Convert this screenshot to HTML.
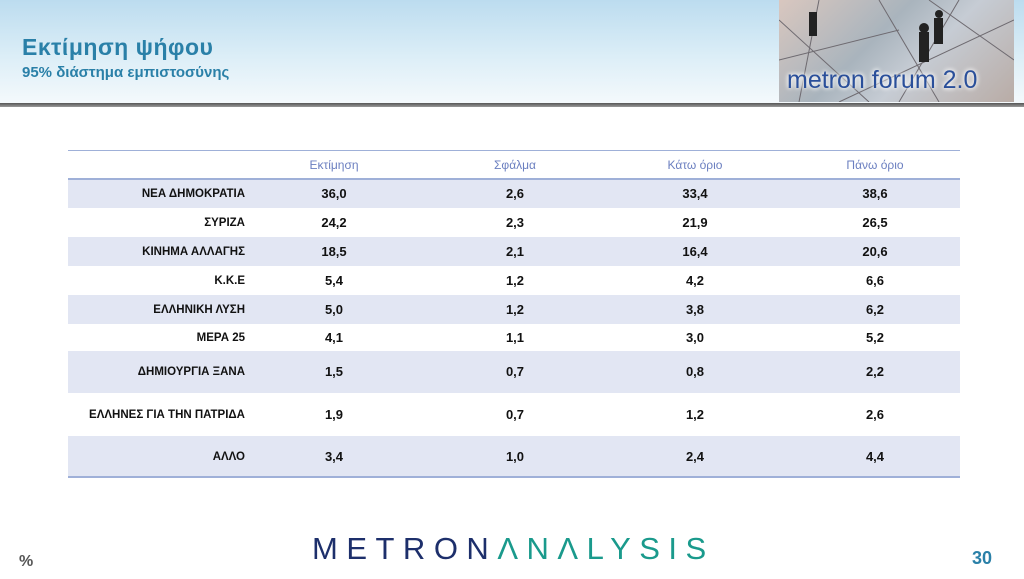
<!DOCTYPE html>
<html><head><meta charset="utf-8">
<style>
body{margin:0;width:1024px;height:579px;overflow:hidden;background:#fff;font-family:"Liberation Sans","DejaVu Sans",sans-serif;position:relative}
#hdr{position:absolute;left:0;top:0;width:1024px;height:103px;background:linear-gradient(180deg,#bcdcef 0%,#dceef7 55%,#f4f9fc 100%)}
#hdrline{position:absolute;left:0;top:103px;width:1024px;height:4px;background:linear-gradient(180deg,#555,#999)}
#title{position:absolute;left:22px;top:34px;font-size:23px;color:#2a80a8;font-weight:bold;letter-spacing:0.5px}
#sub{position:absolute;left:22px;top:64px;font-size:15px;color:#2a80a8;font-weight:bold}
#photo{position:absolute;left:779px;top:0;width:235px;height:102px;background:linear-gradient(135deg,#d9c7bf 0%,#a9b4bd 40%,#c6ccd4 60%,#b9aca6 100%);overflow:hidden}
#photo span{position:absolute;left:8px;top:66px;font-size:25px;color:#2a4f9a;white-space:nowrap;text-shadow:0 0 4px #fff,0 0 6px #fff}
.line{position:absolute;left:68px;width:892px;background:#9fb0d8}
.cell{position:absolute;font-size:13px;line-height:14px;font-weight:bold;color:#111;text-align:center;width:120px}
.lab{position:absolute;font-size:11.5px;line-height:14px;font-weight:bold;color:#111;text-align:right;width:230px;left:15px;margin:0}
.hd{position:absolute;top:158px;font-size:12px;color:#6b7fc0;text-align:center;width:120px}
#logo{position:absolute;left:312px;top:531px;font-size:31px;letter-spacing:8.5px;color:#1d2f6b}
#logo b{font-weight:normal;color:#1a9a8c}
#pct{position:absolute;left:19px;top:553px;font-size:16px;color:#555;font-weight:bold}
#pg{position:absolute;left:972px;top:548px;font-size:18px;color:#2a80a8;font-weight:bold}
</style></head><body>
<div id="hdr"></div>
<div id="hdrline"></div>
<div id="title">Εκτίμηση ψήφου</div>
<div id="sub">95% διάστημα εμπιστοσύνης</div>
<div id="photo">
<svg width="235" height="102" style="position:absolute;left:0;top:0"><g stroke="#6e6a70" stroke-width="1" fill="none"><line x1="0" y1="20" x2="90" y2="102"/><line x1="40" y1="0" x2="20" y2="102"/><line x1="100" y1="0" x2="160" y2="102"/><line x1="150" y1="0" x2="235" y2="60"/><line x1="0" y1="60" x2="120" y2="30"/><line x1="180" y1="0" x2="120" y2="102"/><line x1="60" y1="102" x2="235" y2="20"/></g><g fill="#222"><circle cx="145" cy="28" r="5"/><rect x="140" y="32" width="10" height="30"/><circle cx="160" cy="14" r="4"/><rect x="155" y="18" width="9" height="26"/><rect x="30" y="12" width="8" height="24"/></g></svg>
<span>metron forum 2.0</span></div>

<div class="line" style="top:150px;height:1px"></div>
<div class="hd" style="left:274px">Εκτίμηση</div>
<div class="hd" style="left:455px">Σφάλμα</div>
<div class="hd" style="left:635px">Κάτω όριο</div>
<div class="hd" style="left:815px">Πάνω όριο</div>
<div id="rows"></div>
<div class="line" style="top:178px;height:2px"></div>
<div class="line" style="top:476px;height:2px"></div>

<div id="logo">METRON<b>ΛNΛLYSIS</b></div>
<div id="pct">%</div>
<div id="pg">30</div>
<script>
const parties=["ΝΕΑ  ΔΗΜΟΚΡΑΤΙΑ","ΣΥΡΙΖΑ","ΚΙΝΗΜΑ  ΑΛΛΑΓΗΣ","Κ.Κ.Ε","ΕΛΛΗΝΙΚΗ  ΛΥΣΗ","ΜΕΡΑ 25","ΔΗΜΙΟΥΡΓΙΑ ΞΑΝΑ","ΕΛΛΗΝΕΣ ΓΙΑ ΤΗΝ ΠΑΤΡΙΔΑ","ΑΛΛΟ"];
const estimate=[36.0,24.2,18.5,5.4,5.0,4.1,1.5,1.9,3.4];
const error=[2.6,2.3,2.1,1.2,1.2,1.1,0.7,0.7,1.0];
const lower=[33.4,21.9,16.4,4.2,3.8,3.0,0.8,1.2,2.4];
const upper=[38.6,26.5,20.6,6.6,6.2,5.2,2.2,2.6,4.4];
const shaded=[true,false,true,false,true,false,true,false,true];
const rowH=[29,29,29,29,29,27,42,43,42];
const colX=[274,455,635,815];
const host=document.getElementById('rows');
let y=179;
const fmt=v=>v.toFixed(1).replace('.',',');
parties.forEach((p,i)=>{
  const h=rowH[i];
  if(shaded[i]){const bg=document.createElement('div');
    
    
    bg.style.cssText=`position:absolute;left:68px;width:892px;top:${y}px;height:${h}px;background:#e2e6f3`;host.appendChild(bg);}
  const ty=Math.round(y+h/2-7);
  const l=document.createElement('div');l.className='lab';
  
  
  l.style.top=ty+'px';l.textContent=p;host.appendChild(l);
  [estimate,error,lower,upper].forEach((arr,c)=>{
    const d=document.createElement('div');d.className='cell';
    
    
    d.style.left=colX[c]+'px';d.style.top=ty+'px';d.textContent=fmt(arr[i]);host.appendChild(d);
  });
  y+=h;
});
</script>
</body></html>
